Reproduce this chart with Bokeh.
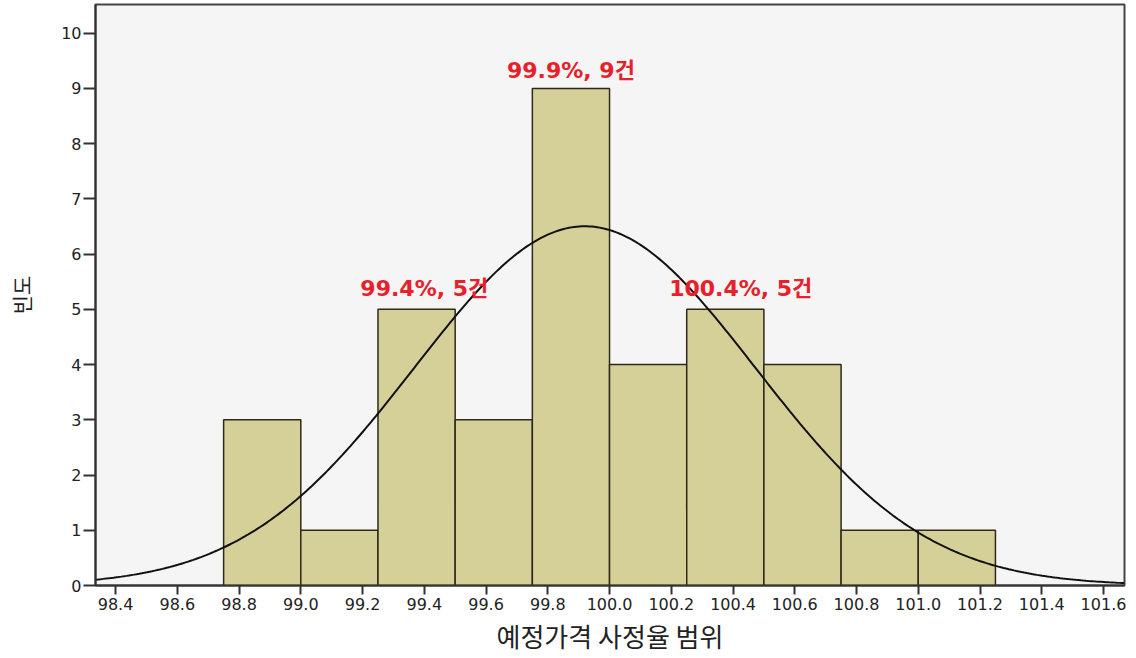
import math
from bokeh.plotting import figure
from bokeh.models import FixedTicker, NumeralTickFormatter, Range1d
from bokeh.core.properties import value
from bokeh.embed import file_html
from bokeh.resources import INLINE

# ---- data ----
bin_edges = [98.75, 99.00, 99.25, 99.50, 99.75, 100.00, 100.25, 100.50, 100.75, 101.00, 101.25]
counts = [3, 1, 5, 3, 9, 4, 5, 4, 1, 1]
# fitted normal curve parameters (as drawn by the original)
fit_mean = 99.92
fit_sd = 0.552
n_total = sum(counts)
bin_width = 0.25

x_ticks = [98.4, 98.6, 98.8, 99.0, 99.2, 99.4, 99.6, 99.8, 100.0, 100.2, 100.4, 100.6, 100.8, 101.0, 101.2, 101.4, 101.6]
y_ticks = [0, 1, 2, 3, 4, 5, 6, 7, 8, 9, 10]

ann_text = ["99.9%, 9건", "99.4%, 5건", "100.4%, 5건"]
ann_x = [99.875, 99.40, 100.425]
ann_y = [9.33, 5.38, 5.38]

x_lo, x_hi = 98.335, 101.668

p = figure(width=1128, height=656, output_backend="svg", toolbar_location=None,
           x_range=Range1d(x_lo, x_hi), y_range=Range1d(0, 10.52),
           min_border_left=95, min_border_right=4, min_border_top=4, min_border_bottom=71)

p.background_fill_color = "#f5f5f5"
p.border_fill_color = "white"
p.outline_line_color = "#444444"
p.outline_line_width = 2
p.xgrid.visible = False
p.ygrid.visible = False

p.quad(left=bin_edges[:-1], right=bin_edges[1:], bottom=0, top=counts,
       fill_color="#d5cf98", line_color="#2e2a1a", line_width=1.5)

# normal curve
steps = 400
cx = [x_lo + (x_hi - x_lo) * i / steps for i in range(steps + 1)]
scale = n_total * bin_width / (fit_sd * math.sqrt(2 * math.pi))
cy = [scale * math.exp(-0.5 * ((v - fit_mean) / fit_sd) ** 2) for v in cx]
p.line(cx, cy, line_color="#111111", line_width=2)

p.text(x=ann_x, y=ann_y, text=ann_text, text_align="center", text_baseline="middle",
       text_color="#e8202a", text_font=value("DejaVu Sans, Noto Sans CJK KR"), text_font_style="bold",
       text_font_size="22px")

# axes
for ax in (p.xaxis[0], p.yaxis[0]):
    ax.axis_line_color = "#333333"
    ax.axis_line_width = 2
    ax.major_tick_line_color = "#333333"
    ax.major_tick_line_width = 2
    ax.minor_tick_line_color = None
    ax.major_tick_in = 0
    ax.major_label_text_color = "#222222"
    ax.major_label_text_font = "DejaVu Sans"
    ax.major_label_text_font_size = "16px"
    ax.axis_label_text_font = "Noto Sans CJK KR"
    ax.axis_label_text_font_style = "normal"
    ax.axis_label_text_color = "#222222"

p.xaxis.ticker = FixedTicker(ticks=x_ticks)
p.xaxis.formatter = NumeralTickFormatter(format="0.0")
p.xaxis.major_tick_out = 9
p.xaxis.major_label_standoff = 3
p.xaxis.axis_label = "예정가격 사정율 범위"
p.xaxis.axis_label_text_font_size = "26px"
p.xaxis.axis_label_standoff = 4

p.yaxis.ticker = FixedTicker(ticks=y_ticks)
p.yaxis.major_tick_out = 12
p.yaxis.major_label_standoff = 2
p.yaxis.axis_label = "빈도"
p.yaxis.axis_label_text_font_size = "21px"
p.yaxis.axis_label_standoff = 22

open("out.html", "w").write(file_html(p, INLINE))
